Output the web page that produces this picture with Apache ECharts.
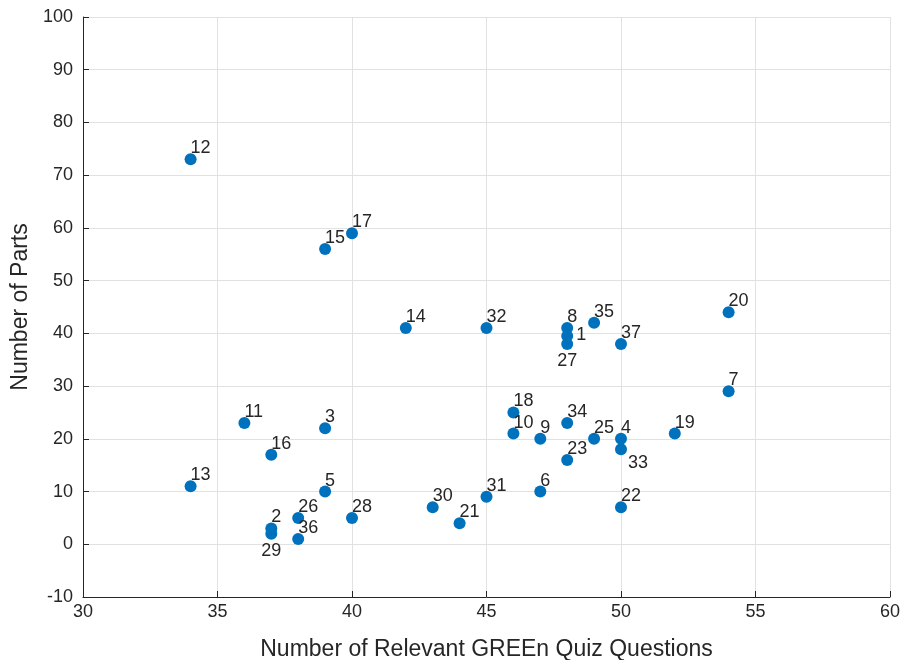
<!DOCTYPE html>
<html>
<head>
<meta charset="utf-8">
<script src="https://cdn.jsdelivr.net/npm/echarts@6/dist/echarts.min.js"></script>
<style>html,body{margin:0;padding:0;background:#fff}#c{width:905px;height:660px}</style>
</head>
<body>
<div id="c"></div>
<script>
const ids = [1,2,3,4,5,6,7,8,9,10,11,12,13,14,15,16,17,18,19,20,21,22,23,25,26,27,28,29,30,31,32,33,34,35,36,37];
const xs  = [48,37,39,50,39,47,54,48,47,46,36,34,34,42,39,37,40,46,52,54,44,50,48,49,38,48,40,37,43,45,45,50,48,49,38,50];
const ys  = [39.5,3,22,20,10,10,29,41,20,21,23,73,11,41,56,17,59,25,21,44,4,7,16,20,5,38,5,2,7,9,41,18,23,42,1,38];
const xTicks = [30,35,40,45,50,55,60];
const yTicks = [-10,0,10,20,30,40,50,60,70,80,90,100];

const FONT = 'Liberation Sans, Arial, Helvetica, sans-serif';
const specialLabel = {
  1:  {position:[15,-4], align:'left', verticalAlign:'top'},
  27: {position:'bottom', distance:2},
  29: {position:'bottom', distance:2},
  33: {position:[13,11], align:'left', verticalAlign:'top'}
};
const defaultLabel = {position:[6,-14], align:'left', verticalAlign:'top'};

const data = ids.map((id,i)=>{
  const lab = Object.assign({show:true, formatter: String(id), fontSize:18, color:'#262626', fontFamily:FONT}, specialLabel[id] || defaultLabel);
  return {value:[xs[i], ys[i]], label: lab};
});

const axisFont = {fontFamily:FONT, fontSize:18, color:'#262626'};
const chart = echarts.init(document.getElementById('c'));
chart.setOption({
  animation:false,
  grid:{left:83, right:15, top:17, bottom:63, containLabel:false, outerBoundsMode:'none'},
  xAxis:{
    type:'value', min:xTicks[0], max:xTicks[xTicks.length-1], interval:5,
    name:'Number of Relevant GREEn Quiz Questions', nameLocation:'middle', nameGap:41,
    nameTextStyle:{fontFamily:FONT, fontSize:23, color:'#262626'},
    axisLine:{onZero:false, lineStyle:{color:'#262626', width:1}},
    axisTick:{inside:true, length:6, lineStyle:{color:'#262626'}},
    axisLabel:Object.assign({margin:6}, axisFont),
    splitLine:{show:true, lineStyle:{color:'#e1e1e1', width:1}}
  },
  yAxis:{
    type:'value', min:yTicks[0], max:yTicks[yTicks.length-1], interval:10,
    name:'Number of Parts', nameLocation:'middle', nameGap:35,
    nameTextStyle:{fontFamily:FONT, fontSize:23, color:'#262626'},
    axisLine:{show:true, onZero:false, lineStyle:{color:'#262626', width:1}},
    axisTick:{show:true, inside:true, length:6, lineStyle:{color:'#262626'}},
    axisLabel:Object.assign({margin:10}, axisFont),
    splitLine:{show:true, lineStyle:{color:'#e1e1e1', width:1}}
  },
  series:[{
    type:'scatter', symbol:'circle', symbolSize:12,
    itemStyle:{color:'#0072BD', opacity:1},
    labelLayout:{hideOverlap:false},
    data:data
  }]
});
</script>
</body>
</html>
